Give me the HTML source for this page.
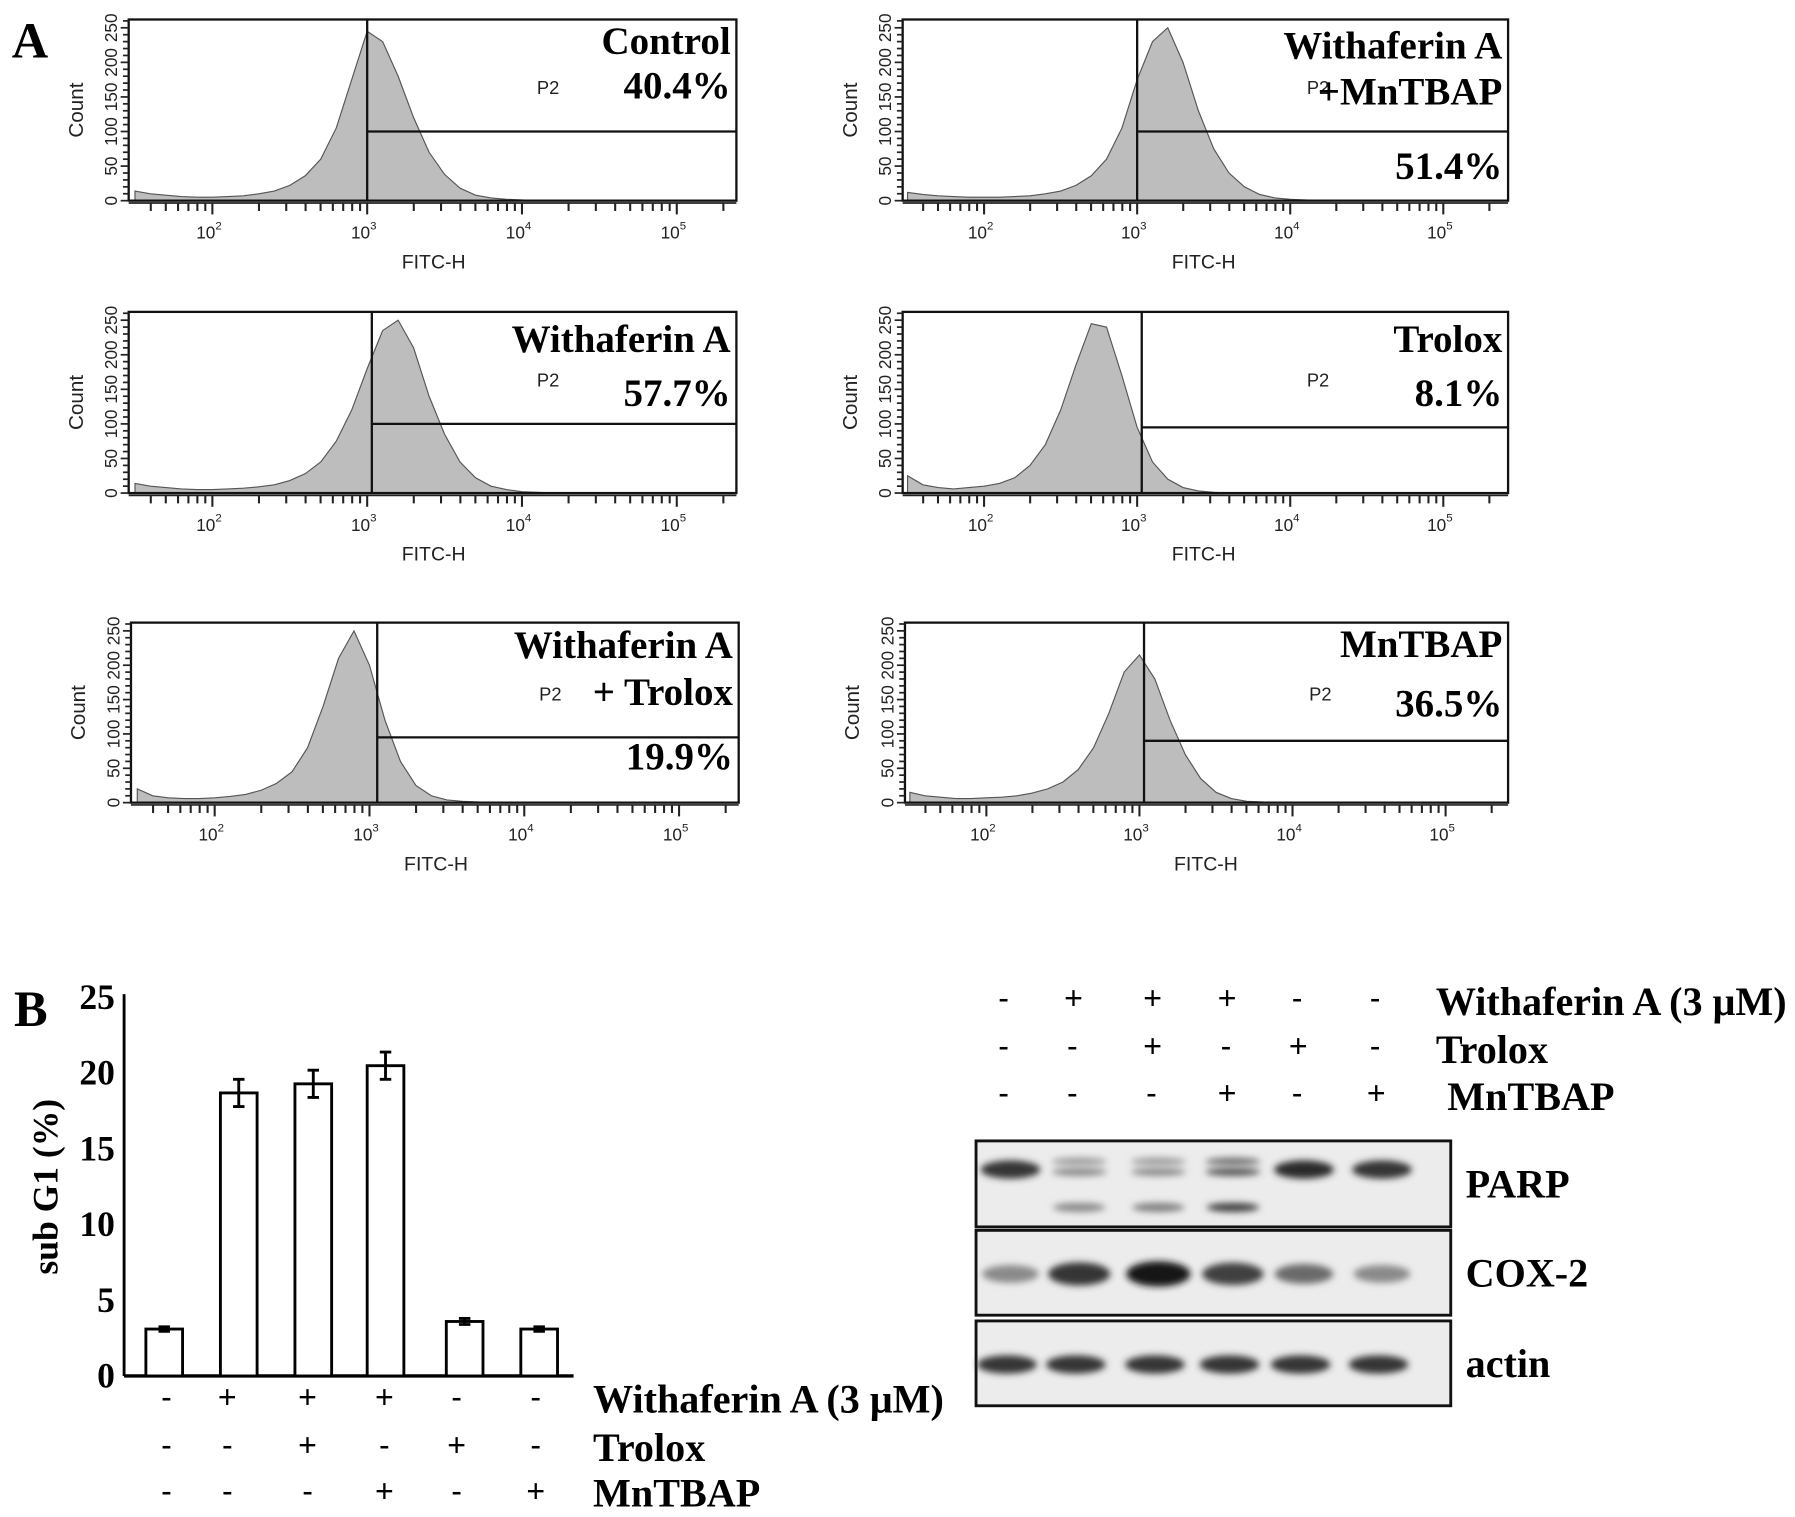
<!DOCTYPE html>
<html><head><meta charset="utf-8"><style>
html,body{margin:0;padding:0;background:#fff}
svg{display:block}
.lab{font-family:"Liberation Serif",serif;font-weight:bold;fill:#000}
.sans{font-family:"Liberation Sans",sans-serif;fill:#222}
</style></head><body>
<svg id="fig" width="1795" height="1517" viewBox="0 0 1565 1323" xmlns="http://www.w3.org/2000/svg">
<defs><filter id="blur" x="-30%" y="-80%" width="160%" height="260%"><feGaussianBlur stdDeviation="3"/></filter></defs>
<text class="lab" x="10" y="50" font-size="44">A</text>
<text class="lab" x="12" y="895" font-size="44">B</text>
</svg>
<script>
// Histogram counts, bins at log10(FITC) = 1.5, 1.6, ... 4.5
const binStart = 1.5, binStep = 0.1;
const histControl = [14,10,8,6,5,5,6,7,10,14,22,36,60,105,175,245,230,180,120,70,38,18,8,4,2,1,0,0,0,0,0];
const histWithaMn = [12,9,7,6,5,5,5,6,7,10,14,22,36,60,105,175,230,250,200,130,75,40,20,9,4,2,1,0,0,0,0];
const histWitha = [14,10,8,6,5,5,6,7,9,12,18,28,45,75,120,180,235,250,210,140,85,45,22,10,5,2,1,0,0,0,0];
const histTrolox = [25,12,8,6,8,10,14,22,40,70,120,185,245,240,170,95,45,20,8,3,1,0,0,0,0,0,0,0,0,0,0];
const histWithaTro = [20,10,7,6,6,7,9,12,18,28,45,80,140,210,250,200,120,60,25,10,4,2,1,0,0,0,0,0,0,0,0];
const histMn = [15,10,8,6,6,7,8,10,14,20,30,48,80,130,190,215,180,120,70,35,15,6,2,1,0,0,0,0,0,0,0];
const panelTitles = [["Control","40.4%"],["Withaferin A","+MnTBAP","51.4%"],["Withaferin A","57.7%"],["Trolox","8.1%"],["Withaferin A","+ Trolox","19.9%"],["MnTBAP","36.5%"]];
const gateLog = [3.0,3.0,3.03,3.03,3.05,3.03];
const gateCount = [100,100,100,95,95,90];
const yTicks = [0,50,100,150,200,250];
const xTickExp = [2,3,4,5];
// Bar chart
const conditions = ["ctrl","withaferin","withaferin-trolox","withaferin-mntbap","trolox","mntbap"];
const subG1 = [3.1,18.7,19.3,20.5,3.6,3.1];
const subG1Err = [0.15,0.9,0.9,0.9,0.2,0.15];
const barTicks = [0,5,10,15,20,25];
const withaRow = ["-","+","+","+","-","-"];
const troloxRow = ["-","-","+","-","+","-"];
const mnRow = ["-","-","-","+","-","+"];
// Western blot band intensities (0..1)
const parpUpper = [0.85,0.45,0.45,0.7,0.9,0.85];
const parpCleaved = [0,0.45,0.5,0.8,0,0];
const cox2 = [0.45,0.85,1.0,0.8,0.6,0.45];
const actin = [0.85,0.85,0.85,0.85,0.85,0.85];

const NS="http://www.w3.org/2000/svg";
const svg=document.getElementById('fig');
function mk(tag,attrs,parent){const e=document.createElementNS(NS,tag);for(const k in attrs)e.setAttribute(k,attrs[k]);(parent||svg).appendChild(e);return e;}

const panels=[
 {x0:112,x1:642,y0:17,y1:175,dec2:185,dec:135,data:histControl},
 {x0:787,x1:1315,y0:17,y1:175,dec2:858,dec:133.5,data:histWithaMn},
 {x0:112,x1:642,y0:272,y1:430,dec2:185,dec:135,data:histWitha},
 {x0:787,x1:1315,y0:272,y1:430,dec2:858,dec:133.5,data:histTrolox},
 {x0:114,x1:644,y0:543,y1:700,dec2:187,dec:135,data:histWithaTro},
 {x0:789,x1:1315,y0:543,y1:700,dec2:860,dec:133.5,data:histMn}];
const titleY=[[36,75],[40,80,145],[296,343],[296,343],[563,604,660],[562,614]];
panels.forEach((p,pi)=>{
 const g=mk('g',{});
 
 
 const xs=l=>p.dec2+(l-2)*p.dec;
 const ys=c=>p.y1-c*(p.y1-p.y0)/262;
 let d='M'+xs(binStart)+','+p.y1;
 p.data.forEach((c,i)=>{d+=' L'+xs(binStart+i*binStep).toFixed(1)+','+ys(c).toFixed(1);});
 d+=' L'+xs(binStart+(p.data.length-1)*binStep)+','+p.y1+' Z';
 const h=mk('path',{d:d,fill:'#bdbdbd',stroke:'#555','stroke-width':1},g);
 
 
 const b=mk('rect',{x:p.x0,y:p.y0,width:p.x1-p.x0,height:p.y1-p.y0,fill:'none',stroke:'#111','stroke-width':2},g);
 
 
 const gx=xs(gateLog[pi]), gy=ys(gateCount[pi]);
 const gl=mk('path',{d:`M${gx},${p.y0} V${p.y1} M${gx},${gy} H${p.x1}`,stroke:'#111','stroke-width':2,fill:'none'},g);
 
 
 yTicks.forEach(t=>{const y=ys(t);if(y<p.y0-2)return;
  mk('line',{x1:p.x0-7,x2:p.x0,y1:y,y2:y,stroke:'#222','stroke-width':1.5},g);
  const tt=mk('text',{class:'sans','font-size':15,transform:`translate(${p.x0-10},${y}) rotate(-90)`,'text-anchor':'middle'},g);tt.textContent=t;
  
  
  for(let k=1;k<5;k++){const ym=ys(t+k*10);if(ym>p.y0)mk('line',{x1:p.x0-5,x2:p.x0,y1:ym,y2:ym,stroke:'#222','stroke-width':1.5},g);}
 });
 const cl=mk('text',{class:'sans','font-size':18,transform:`translate(${p.x0-40},${(p.y0+p.y1)/2}) rotate(-90)`,'text-anchor':'middle'},g);cl.textContent='Count';
 
 
 mk('line',{x1:p.x0,x2:p.x1,y1:p.y1+2,y2:p.y1+2,stroke:'#222','stroke-width':1.5},g);
 for(let e=1;e<=5;e++)for(let m=1;m<10;m++){const x=xs(e+Math.log10(m));if(x<p.x0+5||x>p.x1)continue;
  mk('line',{x1:x,x2:x,y1:p.y1+2,y2:p.y1+(m===1?12:9),stroke:'#222','stroke-width':1.8},g);}
 xTickExp.forEach(e=>{const x=xs(e);
  const t=mk('text',{class:'sans','font-size':15,x:x-3,y:p.y1+33,'text-anchor':'middle'},g);
  t.innerHTML='10<tspan font-size="10" dy="-8">'+e+'</tspan>';
  
  });
 const xl=mk('text',{class:'sans','font-size':17,x:xs(3)+58,y:p.y1+59,'text-anchor':'middle'},g);xl.textContent='FITC-H';
 
 
 const p2=mk('text',{class:'sans','font-size':16,x:xs(3)+148,y:(pi<2?75:pi<4?330:604)+7},g);p2.textContent='P2';
 
 
 panelTitles[pi].forEach((s,j)=>{const t=mk('text',{class:'lab','font-size':34,x:p.x1-5,y:titleY[pi][j]+11,'text-anchor':'end'},g);t.textContent=s;
  
  });
});

// Bar chart
const bx0=108, by0=1200, byTop=870, bxEnd=500;
const bcx=[143,208,273,336,405,470];
const yB=v=>by0-v*(by0-byTop)/25;
const bg=mk('g',{});


mk('line',{x1:bx0,x2:bx0,y1:byTop-3,y2:by0,stroke:'#000','stroke-width':2.5},bg);
mk('line',{x1:bx0,x2:bxEnd,y1:by0,y2:by0,stroke:'#000','stroke-width':3},bg);
barTicks.forEach(t=>{const tt=mk('text',{class:'lab','font-size':31,x:bx0-8,y:yB(t)+10,'text-anchor':'end'},bg);tt.textContent=t;
 
 });
const yt=mk('text',{class:'lab','font-size':31,transform:'translate(50,1035) rotate(-90)','text-anchor':'middle'},bg);yt.textContent='sub G1 (%)';


subG1.forEach((v,i)=>{const x=bcx[i];
 const r=mk('rect',{x:x-16,y:yB(v),width:32,height:by0-yB(v),fill:'#fff',stroke:'#000','stroke-width':2.5},bg);
 
 
 const e=subG1Err[i];
 const eb=mk('path',{d:`M${x},${yB(v+e)} V${yB(v-e)} M${x-5},${yB(v+e)} H${x+5} M${x-5},${yB(v-e)} H${x+5}`,stroke:'#000','stroke-width':2.5,fill:'none'},bg);
 
 
});
const condX=[145,198,268,335,398,467];
[[withaRow,1228,'Withaferin A (3 μM)'],[troloxRow,1270,'Trolox'],[mnRow,1310,'MnTBAP']].forEach(([row,y,lab])=>{
 row.forEach((s,i)=>{const t=mk('text',{class:'sans','font-size':28,x:condX[i],y:y,'text-anchor':'middle',style:'fill:#000'},bg);t.textContent=s;
  
  });
 const t=mk('text',{class:'lab','font-size':35,x:517,y:y+4},bg);t.textContent=lab;
 
 
});

// Western blot
const wg=mk('g',{});


const laneX=[876,936,1005,1070,1132,1200];
[[withaRow,880,'Withaferin A (3 μM)',1252],[troloxRow,922,'Trolox',1252],[mnRow,963,'MnTBAP',1262]].forEach(([row,y,lab,lx])=>{
 row.forEach((s,i)=>{const t=mk('text',{class:'sans','font-size':28,x:laneX[i]+(s==='-'?-1:0),y:y,'text-anchor':'middle',style:'fill:#000'},wg);t.textContent=s;
  
  });
 const t=mk('text',{class:'lab','font-size':35,x:lx,y:y+5},wg);t.textContent=lab;
 
 
});
const strips=[{y0:995,y1:1070,name:'PARP'},{y0:1073,y1:1147,name:'COX-2'},{y0:1152,y1:1226,name:'actin'}];
strips.forEach(s=>{const r=mk('rect',{x:851,y:s.y0,width:414,height:s.y1-s.y0,fill:'#ececec',stroke:'#111','stroke-width':2.5},wg);
 
 
 const t=mk('text',{class:'lab','font-size':35,x:1278,y:(s.y0+s.y1)/2+12},wg);t.textContent=s.name;
 
 });
function band(x,y,w,h,v){if(v<=0)return;const g=Math.round(235-v*215);
 const e=mk('ellipse',{cx:x,cy:y,rx:w/2,ry:h/2,fill:`rgb(${g},${g},${g})`,filter:'url(#blur)'},wg);
 
 }
parpUpper.forEach((v,i)=>{if(i>=1&&i<=3){band(laneX[i]+5,1013,48,7,v*0.8);band(laneX[i]+5,1022,48,7,v);}else band(laneX[i]+5,1020,52,16,v);});
parpCleaved.forEach((v,i)=>band(laneX[i]+5,1053,46,8,v));
cox2.forEach((v,i)=>band(laneX[i]+5,1111,44+v*12,10+v*12,v));
actin.forEach((v,i)=>band(laneX[i]+2,1190,52,16,v));
</script>
</body></html>
